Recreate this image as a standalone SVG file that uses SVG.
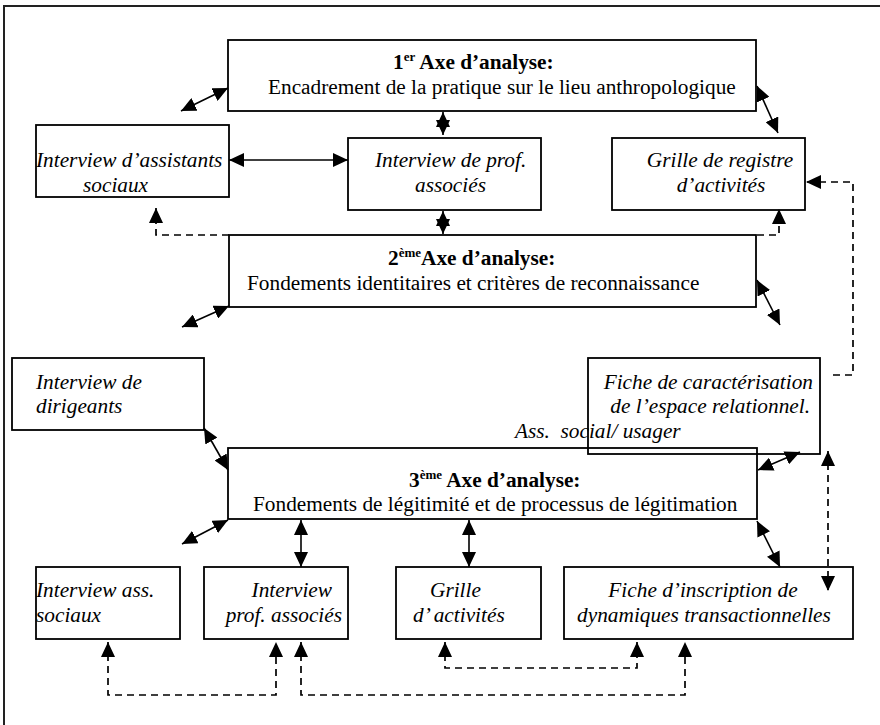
<svg xmlns="http://www.w3.org/2000/svg" width="880" height="725" viewBox="0 0 880 725">
  <style>
    .box { fill: none; stroke: #000; stroke-width: 1.8; }
    text { font-family: "Liberation Serif", "Times New Roman", Times, serif; font-size: 21.3px; fill: #000; }
    .i { font-style: italic; }
    .b { font-weight: bold; }
    .sup { font-size: 13px; }
    .ln { fill: none; stroke: #000; stroke-width: 1.6; }
    .dash { fill: none; stroke: #000; stroke-width: 1.7; stroke-dasharray: 7 5; }
    .two { marker-start: url(#head); marker-end: url(#head); }
    .one { marker-end: url(#head); }
  </style>
  <defs>
    <marker id="head" viewBox="0 0 15 14" refX="15" refY="7" markerWidth="15" markerHeight="14" markerUnits="userSpaceOnUse" orient="auto-start-reverse">
      <path d="M0,0 L15,7 L0,14 z" fill="#000"/>
    </marker>
  </defs>

  <rect width="880" height="725" fill="#fff"/>
  <!-- page frame -->
  <path d="M4,725 V6 H880" fill="none" stroke="#222" stroke-width="2"/>

  <!-- analysis axis 1 -->
  <g id="axe1">
    <rect class="box" x="228" y="40" width="528" height="71"/>
    <text class="b" x="393" y="69">1<tspan class="sup" dy="-8">er</tspan><tspan dy="8"> Axe d’analyse:</tspan></text>
    <text x="268" y="94">Encadrement de la pratique sur le lieu anthropologique</text>
  </g>

  <g id="interview-assistants">
    <rect class="box" x="36" y="125" width="193" height="72"/>
    <text class="i" x="36" y="167">Interview d’assistants</text>
    <text class="i" x="83" y="192">sociaux</text>
  </g>

  <g id="interview-prof">
    <rect class="box" x="348" y="138" width="193" height="72"/>
    <text class="i" x="375" y="167">Interview de prof.</text>
    <text class="i" x="415" y="192">associés</text>
  </g>

  <g id="grille-registre">
    <rect class="box" x="612" y="138" width="193" height="72"/>
    <text class="i" x="720" y="167" text-anchor="middle">Grille de registre</text>
    <text class="i" x="721" y="192" text-anchor="middle">d’activités</text>
  </g>

  <!-- analysis axis 2 -->
  <g id="axe2">
    <rect class="box" x="229" y="235" width="527" height="72"/>
    <text class="b" x="388" y="265">2<tspan class="sup" dy="-8">ème</tspan><tspan dy="8">Axe d’analyse:</tspan></text>
    <text x="247" y="290">Fondements identitaires et critères de reconnaissance</text>
  </g>

  <g id="interview-dirigeants">
    <rect class="box" x="12" y="358" width="192" height="72"/>
    <text class="i" x="36" y="389">Interview de</text>
    <text class="i" x="36" y="413">dirigeants</text>
  </g>

  <g id="fiche-espace">
    <rect class="box" x="588" y="358" width="232" height="96"/>
    <text class="i" x="813" y="389" text-anchor="end">Fiche de caractérisation</text>
    <text class="i" x="810" y="413" text-anchor="end">de l’espace relationnel.</text>
    <text class="i" x="515" y="438" xml:space="preserve">Ass.  social/ usager</text>
  </g>

  <!-- analysis axis 3 -->
  <g id="axe3">
    <rect class="box" x="228" y="448" width="529" height="71"/>
    <text class="b" x="409" y="487">3<tspan class="sup" dy="-8">ème</tspan><tspan dy="8"> Axe d’analyse:</tspan></text>
    <text x="253" y="511">Fondements de légitimité et de processus de légitimation</text>
  </g>

  <g id="interview-ass-sociaux">
    <rect class="box" x="36" y="567" width="144" height="72"/>
    <text class="i" x="36" y="597">Interview ass.</text>
    <text class="i" x="36" y="622">sociaux</text>
  </g>

  <g id="interview-prof-associes">
    <rect class="box" x="204" y="567" width="144" height="72"/>
    <text class="i" x="332" y="597" text-anchor="end">Interview</text>
    <text class="i" x="342" y="622" text-anchor="end">prof. associés</text>
  </g>

  <g id="grille-activites">
    <rect class="box" x="396" y="567" width="145" height="72"/>
    <text class="i" x="430" y="597">Grille</text>
    <text class="i" x="413" y="622">d’ activités</text>
  </g>

  <g id="fiche-inscription">
    <rect class="box" x="564" y="567" width="289" height="72"/>
    <text class="i" x="703" y="597" text-anchor="middle">Fiche d’inscription de</text>
    <text class="i" x="704" y="622" text-anchor="middle">dynamiques transactionnelles</text>
  </g>

  <!-- connectors -->
  <g id="connectors">
    <line class="ln two" x1="181" y1="111" x2="228" y2="88"/>
    <line class="ln two" x1="757" y1="86" x2="778" y2="133"/>
    <line class="ln two" x1="229" y1="160" x2="348" y2="160"/>
    <line class="ln two" x1="443" y1="112" x2="443" y2="135"/>
    <line class="ln two" x1="443" y1="211" x2="443" y2="234"/>
    <path class="dash one" d="M229,235 H156 V208"/>
    <path class="dash one" d="M757,235 H779 V209"/>
    <path class="dash one" d="M833,375 H853 V182 H806"/>
    <line class="ln two" x1="229" y1="306" x2="182" y2="327"/>
    <line class="ln two" x1="757" y1="280" x2="780" y2="325"/>
    <line class="ln two" x1="204" y1="428" x2="228" y2="470"/>
    <line class="ln two" x1="228" y1="520" x2="182" y2="544"/>
    <line class="ln two" x1="301" y1="520" x2="301" y2="567"/>
    <line class="ln two" x1="469" y1="520" x2="469" y2="567"/>
    <line class="ln two" x1="758" y1="470" x2="800" y2="452"/>
    <path class="dash two" d="M828,451 V591"/>
    <line class="ln two" x1="757" y1="521" x2="780" y2="567"/>
    <path class="dash two" d="M108,642 V695 H276 V642"/>
    <path class="dash two" d="M301,642 V695 H685 V642"/>
    <path class="dash two" d="M445,642 V668 H637 V642"/>
  </g>
</svg>
